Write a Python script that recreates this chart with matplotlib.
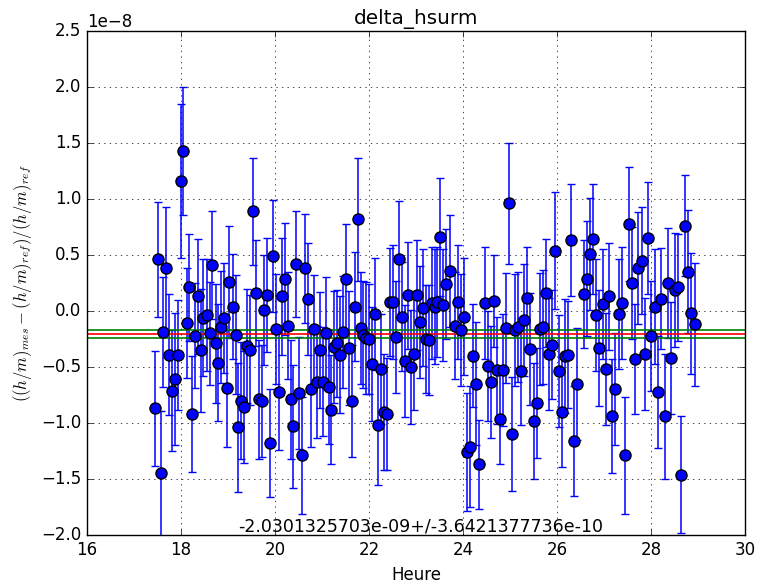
import numpy as np
import matplotlib
matplotlib.use('Agg')
from matplotlib import pyplot as plt

plt.style.use('classic')

# heure (h)
heure = [17.45, 17.51, 17.57, 17.62, 17.68, 17.74, 17.81, 17.87, 17.94, 18.00,
         18.04, 18.13, 18.17, 18.23, 18.30, 18.36, 18.43, 18.47, 18.55, 18.62,
         18.66, 18.74, 18.79, 18.85, 18.91, 18.98, 19.02, 19.11, 19.17, 19.21,
         19.28, 19.34, 19.40, 19.47, 19.53, 19.60, 19.66, 19.72, 19.77, 19.83,
         19.89, 19.96, 20.02, 20.09, 20.15, 20.21, 20.28, 20.34, 20.38, 20.45,
         20.51, 20.57, 20.64, 20.70, 20.77, 20.83, 20.89, 20.96, 21.02, 21.09,
         21.15, 21.19, 21.26, 21.32, 21.38, 21.45, 21.51, 21.57, 21.64, 21.70,
         21.77, 21.83, 21.87, 21.94, 22.00, 22.06, 22.13, 22.19, 22.26, 22.32,
         22.38, 22.45, 22.51, 22.57, 22.64, 22.70, 22.77, 22.83, 22.89, 22.96,
         23.02, 23.09, 23.15, 23.21, 23.28, 23.34, 23.40, 23.45, 23.51, 23.57,
         23.64, 23.72, 23.83, 23.89, 23.96, 24.02, 24.09, 24.15, 24.21, 24.28,
         24.34, 24.47, 24.53, 24.60, 24.66, 24.72, 24.79, 24.85, 24.91, 24.98,
         25.04, 25.11, 25.17, 25.23, 25.30, 25.36, 25.43, 25.51, 25.57, 25.64,
         25.70, 25.77, 25.83, 25.89, 25.96, 26.04, 26.11, 26.17, 26.23, 26.30,
         26.36, 26.43, 26.57, 26.64, 26.70, 26.77, 26.83, 26.89, 26.98, 27.04,
         27.11, 27.17, 27.23, 27.32, 27.38, 27.45, 27.53, 27.60, 27.66, 27.72,
         27.81, 27.87, 27.94, 28.00, 28.09, 28.15, 28.21, 28.30, 28.36, 28.43,
         28.51, 28.57, 28.64, 28.72, 28.79, 28.85, 28.94]

# ecart relatif (x 1e-8)
delta = [-0.87, 0.46, -1.45, -0.19, 0.38, -0.39, -0.71, -0.61, -0.39, 1.16,
         1.43, -0.11, 0.21, -0.92, -0.22, 0.13, -0.35, -0.06, -0.04, -0.20,
         0.41, -0.29, -0.46, -0.14, -0.06, -0.69, 0.26, 0.04, -0.21, -1.04,
         -0.80, -0.86, -0.31, -0.35, 0.89, 0.16, -0.79, -0.80, 0.01, 0.14,
         -1.18, 0.49, -0.16, -0.72, 0.13, 0.29, -0.13, -0.79, -1.03, 0.42,
         -0.73, -1.29, 0.38, 0.11, -0.70, -0.16, -0.63, -0.35, -0.63, -0.20,
         -0.68, -0.88, -0.32, -0.29, -0.39, -0.19, 0.29, -0.33, -0.80, 0.04,
         0.82, -0.15, -0.21, -0.24, -0.25, -0.47, -0.03, -1.02, -0.52, -0.90,
         -0.92, 0.08, 0.08, -0.23, 0.46, -0.05, -0.45, 0.14, -0.50, -0.38,
         0.14, -0.10, 0.03, -0.25, -0.26, 0.07, 0.04, 0.08, 0.66, 0.05,
         0.24, 0.36, -0.13, 0.08, -0.17, -0.05, -1.26, -1.21, -0.40, -0.65,
         -1.37, 0.07, -0.49, -0.63, 0.09, -0.53, -0.96, -0.53, -0.15, 0.96,
         -1.10, -0.17, -0.14, -0.54, -0.08, 0.12, -0.34, -0.98, -0.82, -0.16,
         -0.14, 0.16, -0.38, -0.30, 0.54, -0.54, -0.90, -0.40, -0.39, 0.63,
         -1.16, -0.65, 0.15, 0.29, 0.51, 0.64, -0.04, -0.33, 0.06, -0.52,
         0.13, -0.94, -0.70, -0.03, 0.07, -1.29, 0.78, 0.25, -0.43, 0.38,
         0.45, -0.38, 0.65, -0.22, 0.04, -0.72, 0.11, -0.94, 0.25, -0.42,
         0.19, 0.21, -1.46, 0.76, 0.35, -0.02, -0.12]

# incertitude (x 1e-8)
err = [0.51, 0.51, 0.56, 0.49, 0.55, 0.54, 0.54, 0.59, 0.49, 0.69,
       0.57, 0.49, 0.48, 0.52, 0.47, 0.51, 0.55, 0.52, 0.50, 0.46,
       0.48, 0.53, 0.52, 0.50, 0.49, 0.52, 0.50, 0.47, 0.53, 0.58,
       0.52, 0.50, 0.51, 0.49, 0.48, 0.47, 0.53, 0.50, 0.49, 0.51,
       0.48, 0.50, 0.49, 0.52, 0.52, 0.50, 0.48, 0.53, 0.55, 0.47,
       0.50, 0.52, 0.49, 0.50, 0.51, 0.48, 0.50, 0.52, 0.49, 0.50,
       0.51, 0.49, 0.50, 0.48, 0.52, 0.50, 0.49, 0.51, 0.50, 0.49,
       0.55, 0.50, 0.48, 0.50, 0.49, 0.51, 0.50, 0.53, 0.49, 0.52,
       0.50, 0.48, 0.51, 0.50, 0.52, 0.49, 0.50, 0.48, 0.51, 0.50,
       0.49, 0.50, 0.52, 0.48, 0.49, 0.50, 0.51, 0.49, 0.53, 0.50,
       0.49, 0.50, 0.48, 0.51, 0.50, 0.52, 0.53, 0.54, 0.46, 0.55,
       0.40, 0.50, 0.49, 0.50, 0.41, 0.48, 0.41, 0.50, 0.49, 0.54,
       0.51, 0.50, 0.49, 0.48, 0.50, 0.45, 0.50, 0.52, 0.49, 0.50,
       0.51, 0.48, 0.50, 0.49, 0.52, 0.50, 0.49, 0.51, 0.48, 0.50,
       0.49, 0.50, 0.48, 0.51, 0.50, 0.49, 0.50, 0.52, 0.49, 0.50,
       0.48, 0.51, 0.50, 0.49, 0.50, 0.52, 0.51, 0.50, 0.49, 0.50,
       0.48, 0.50, 0.50, 0.49, 0.51, 0.50, 0.45, 0.56, 0.49, 0.50,
       0.51, 0.48, 0.52, 0.45, 0.55, 0.54, 0.55]

moy = -2.0301325703e-09
sig = 3.6421377736e-10

t = np.array(heure)
y = np.array(delta) * 1e-8
ey = np.array(err) * 1e-8

fig = plt.figure(figsize=(7.58, 5.84), dpi=100)
ax = fig.add_axes([0.1148, 0.0839, 0.868, 0.863])

ax.errorbar(t, y, yerr=ey, fmt='o', color='b', ecolor='b', mfc='b', mec='k',
            mew=1.0, ms=8, capsize=3, elinewidth=1.1)
ax.axhline(moy, color='r', lw=1.2)
ax.axhline(moy + sig, color='g', lw=1.2)
ax.axhline(moy - sig, color='g', lw=1.2)

ax.set_xlim(16, 30)
ax.set_ylim(-2.0e-8, 2.5e-8)
ax.grid(True)
ax.set_title('delta_hsurm')
ax.set_xlabel('Heure')
ax.set_ylabel(r'$((h/m)_{mes}-(h/m)_{ref})/(h/m)_{ref}$')
ax.text(23.1, -2.0e-8, str(moy) + '+/-' + str(sig), ha='center', va='bottom', fontsize=12.5)

fig.savefig('out.png', dpi=100)
